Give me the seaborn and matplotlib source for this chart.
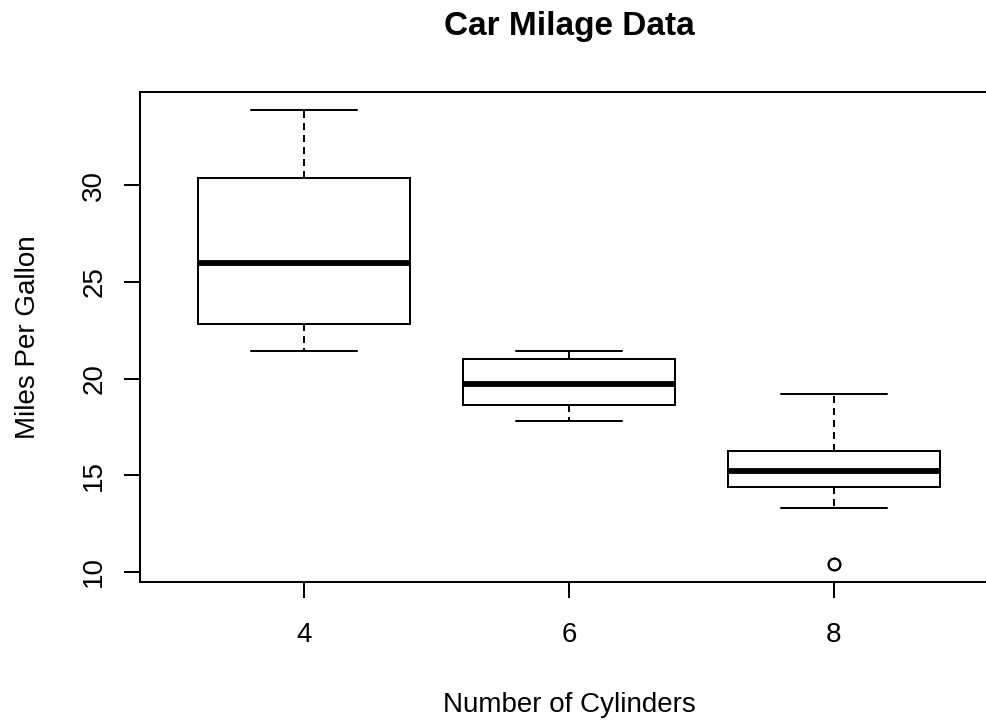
import numpy as np
import pandas as pd
import matplotlib
matplotlib.use("Agg")
import matplotlib.pyplot as plt
import seaborn as sns

# mtcars mpg by number of cylinders
mpg_cyl4 = [22.8, 24.4, 22.8, 32.4, 30.4, 33.9, 21.5, 27.3, 26.0, 30.4, 21.4]
mpg_cyl6 = [21.0, 21.0, 21.4, 18.1, 19.2, 17.8, 19.7]
mpg_cyl8 = [18.7, 14.3, 16.4, 17.3, 15.2, 10.4, 10.4, 14.7, 15.5, 15.2, 13.3,
            19.2, 15.8, 15.0]
categories = ["4", "6", "8"]
y_ticks = [10, 15, 20, 25, 30]

title = "Car Milage Data"
x_label = "Number of Cylinders"
y_label = "Miles Per Gallon"

df = pd.DataFrame({
    "cyl": ["4"] * len(mpg_cyl4) + ["6"] * len(mpg_cyl6) + ["8"] * len(mpg_cyl8),
    "mpg": mpg_cyl4 + mpg_cyl6 + mpg_cyl8,
})

sns.set_style("white")
plt.rcParams["font.family"] = ["Liberation Sans", "DejaVu Sans"]

W, H = 987, 723
fig = plt.figure(figsize=(W / 100, H / 100), dpi=100)
# axes box in pixels: left 140, right 998 (off canvas), top 92, bottom 582
ax = fig.add_axes([140 / W, (H - 582) / H, 858 / W, 490 / H])

lw = 1.44
sns.boxplot(
    data=df, x="cyl", y="mpg", order=categories, ax=ax,
    color="white", linecolor="black", linewidth=lw, width=0.8,
    whis=1.65, fliersize=8.5,
    medianprops=dict(linewidth=4.2, color="black"),
    whiskerprops=dict(linestyle=(0, (3.5, 2.5)), linewidth=lw, color="black"),
    capprops=dict(linewidth=lw, color="black"),
    boxprops=dict(linewidth=lw, edgecolor="black", facecolor="white"),
    flierprops=dict(marker="o", markerfacecolor="none",
                    markeredgecolor="black", markeredgewidth=1.4),
)

ax.set_xlim(-0.62, 2.62)
ax.set_ylim(9.46, 34.84)
ax.set_yticks(y_ticks)
ax.set_yticklabels([str(t) for t in y_ticks], rotation=90, va="center")
ax.set_xticks(range(len(categories)))
ax.set_xticklabels(categories)

for s in ax.spines.values():
    s.set_color("black")
    s.set_linewidth(lw)
    s.set_visible(True)

ax.tick_params(axis="x", direction="out", length=11.5, width=lw, color="black",
               labelsize=20, pad=17.5, labelcolor="black", bottom=True)
ax.tick_params(axis="y", direction="out", length=11.5, width=lw, color="black",
               labelsize=20, pad=12, labelcolor="black", left=True)

ax.set_xlabel(x_label, fontsize=20, color="black")
ax.xaxis.label.set_va("baseline")
ax.xaxis.set_label_coords(0.5, (582 - 712) / 490)

ax.set_ylabel(y_label, fontsize=20, color="black")
ax.yaxis.label.set_va("baseline")
ax.yaxis.set_label_coords((35 - 140) / 858, 0.5)

ax.set_title(title, fontsize=24, fontweight="bold", color="black",
             y=(582 - 35) / 490, pad=0)

fig.savefig("out.png", dpi=100)
